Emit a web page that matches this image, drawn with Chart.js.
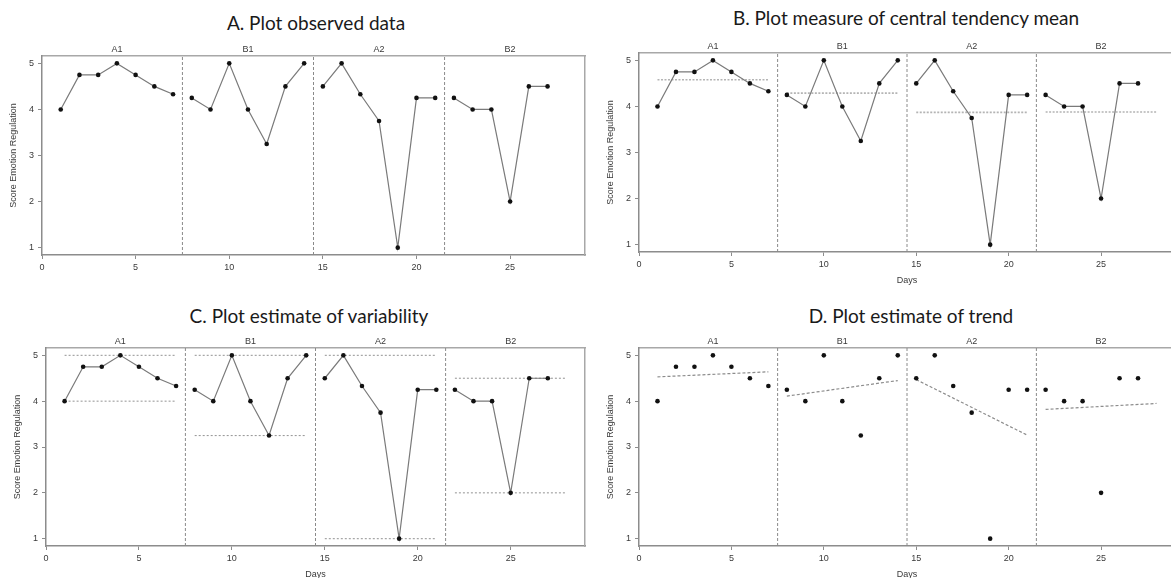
<!DOCTYPE html>
<html>
<head>
<meta charset="utf-8">
<script src="https://cdn.jsdelivr.net/npm/chart.js@4.4.1/dist/chart.umd.min.js"></script>
<style>
  html, body { margin: 0; padding: 0; background: #fff; overflow: hidden; }
  body { width: 1171px; height: 578px; position: relative; }
  canvas { position: absolute; }
  .title {
    position: absolute;
    font-family: Lato, "Open Sans", sans-serif;
    font-size: 19px;
    color: #1a1a1a;
    white-space: nowrap;
    transform: translate(-50%, -50%);
  }
</style>
</head>
<body>
<div class="title" style="left:316px;top:22px">A. Plot observed data</div>
<div class="title" style="left:906px;top:17px">B. Plot measure of central tendency mean</div>
<div class="title" style="left:309px;top:315px">C. Plot estimate of variability</div>
<div class="title" style="left:911px;top:315px">D. Plot estimate of trend</div>
<canvas id="chartA"></canvas>
<canvas id="chartB"></canvas>
<canvas id="chartC"></canvas>
<canvas id="chartD"></canvas>
<script>
// data
const days = [1, 2, 3, 4, 5, 6, 7, 8, 9, 10, 11, 12, 13, 14, 15, 16, 17, 18, 19, 20, 21, 22, 23, 24, 25, 26, 27];
const scores = [4, 4.75, 4.75, 5, 4.75, 4.5, 4.33,
                4.25, 4, 5, 4, 3.25, 4.5, 5,
                4.5, 5, 4.33, 3.75, 1, 4.25, 4.25,
                4.25, 4, 4, 2, 4.5, 4.5];
const phaseNames = ["A1", "B1", "A2", "B2"];
const phaseFirstDay = [1, 8, 15, 22];
const phaseLastDay = [7, 14, 21, 27];
const refLineEnd = [7, 14, 21, 28];
const phaseBreaks = [7.5, 14.5, 21.5];
const phaseLabelAt = [4, 11, 18, 25];
const phaseMeans = [4.58, 4.29, 3.87, 3.88];
const phaseMax = [5, 5, 5, 4.5];
const phaseMin = [4, 3.25, 1, 2];
const trendStart = [4.53, 4.11, 4.47, 3.82];
const trendEnd = [4.64, 4.45, 3.26, 3.95];
const xTicks = [0, 5, 10, 15, 20, 25];
const yTicks = [1, 2, 3, 4, 5];
const xMin = 0, xMax = 29, yMin = 0.84, yMax = 5.16;

const axisColor = "#8c8c8c";
const boxColor = "#a8a8a8";
const textColor = "#3a3a3a";
const smallFont = { family: "'Liberation Sans', Arial, sans-serif", size: 9 };

// points of one phase
function phasePoints(i) {
    const pts = [];
    days.forEach((d, k) => {
        if (d >= phaseFirstDay[i] && d <= phaseLastDay[i]) pts.push({ x: d, y: scores[k] });
    });
    return pts;
}

function observedSets(withLines) {
    return phaseNames.map((_, i) => ({
        data: phasePoints(i),
        showLine: withLines,
        borderColor: "#7a7a7a",
        borderWidth: 1.2,
        pointRadius: 2.3,
        pointBackgroundColor: "#111",
        pointBorderWidth: 0
    }));
}

function breakSets() {
    return phaseBreaks.map(b => ({
        data: [{ x: b, y: yMin }, { x: b, y: yMax }],
        showLine: true,
        borderColor: "#8a8a8a",
        borderWidth: 1,
        borderDash: [3, 2],
        pointRadius: 0
    }));
}

function refLine(x1, y1, x2, y2, color, dash, width) {
    return {
        data: [{ x: x1, y: y1 }, { x: x2, y: y2 }],
        showLine: true,
        borderColor: color,
        borderWidth: width,
        borderDash: dash,
        pointRadius: 0
    };
}

// area = page position of the plot box
function makePanel(id, area, datasets, showDays) {
    const wy = 42, wr = 4, ht = 20, hx = 36;
    const canvas = document.getElementById(id);
    const left = area.left - wy, top = area.top - ht;
    canvas.width = area.right + wr - left;
    canvas.height = area.bottom + hx - top;
    canvas.style.left = left + "px";
    canvas.style.top = top + "px";

    return new Chart(canvas, {
        type: "scatter",
        data: { datasets },
        options: {
            responsive: false,
            animation: false,
            devicePixelRatio: 1,
            layout: { padding: 0 },
            plugins: { legend: { display: false }, tooltip: { enabled: false } },
            scales: {
                x: {
                    type: "linear", position: "bottom", min: xMin, max: xMax,
                    afterBuildTicks: s => { s.ticks = xTicks.map(v => ({ value: v })); },
                    afterFit: s => { s.height = hx; },
                    grid: { drawOnChartArea: false, tickLength: 4, tickColor: axisColor },
                    border: { color: axisColor, width: 1.5 },
                    ticks: { padding: 3, color: textColor, font: smallFont, maxRotation: 0, autoSkip: false },
                    title: { display: showDays, text: "Days", color: textColor, font: smallFont, padding: { top: 0, bottom: 1.6 } }
                },
                top: {
                    type: "linear", position: "top", min: xMin, max: xMax,
                    afterBuildTicks: s => { s.ticks = phaseLabelAt.map(v => ({ value: v })); },
                    afterFit: s => { s.height = ht; },
                    grid: { display: false, drawTicks: false },
                    border: { color: boxColor, width: 1.5 },
                    ticks: { padding: 1, color: textColor, font: smallFont, maxRotation: 0, autoSkip: false,
                             callback: (v, i) => phaseNames[i] }
                },
                y: {
                    type: "linear", position: "left", min: yMin, max: yMax,
                    afterBuildTicks: s => { s.ticks = yTicks.map(v => ({ value: v })); },
                    afterFit: s => { s.width = wy; },
                    grid: { drawOnChartArea: false, tickLength: 4, tickColor: axisColor },
                    border: { color: axisColor, width: 1.5 },
                    ticks: { padding: 4, color: textColor, font: smallFont },
                    title: { display: true, text: "Score Emotion Regulation", color: textColor, font: smallFont, padding: { top: 8.6, bottom: 0 } }
                },
                right: {
                    type: "linear", position: "right", min: yMin, max: yMax,
                    afterFit: s => { s.width = wr; },
                    grid: { display: false, drawTicks: false },
                    border: { color: boxColor, width: 1.5 },
                    ticks: { display: false }
                }
            }
        }
    });
}

// ➤ Panel A: observed data
makePanel("chartA", { left: 42, right: 585, top: 56, bottom: 255 },
    [...observedSets(true), ...breakSets()], false);

// ➤ Panel B: phase means
makePanel("chartB", { left: 639, right: 1175, top: 53, bottom: 252 },
    [...observedSets(true), ...breakSets(),
     ...phaseMeans.map((m, i) => refLine(phaseFirstDay[i], m, refLineEnd[i], m, "#b4b4b4", [2, 1.5], 1.6))], true);

// ➤ Panel C: range (max / min)
makePanel("chartC", { left: 46, right: 585, top: 348, bottom: 546 },
    [...observedSets(true), ...breakSets(),
     ...phaseMax.map((m, i) => refLine(phaseFirstDay[i], m, refLineEnd[i], m, "#9c9c9c", [2, 2], 1.1)),
     ...phaseMin.map((m, i) => refLine(phaseFirstDay[i], m, refLineEnd[i], m, "#9c9c9c", [2, 2], 1.1))], true);

// ➤ Panel D: trend lines
makePanel("chartD", { left: 639, right: 1175, top: 348, bottom: 546 },
    [...observedSets(false), ...breakSets(),
     ...trendStart.map((s, i) => refLine(phaseFirstDay[i], s, refLineEnd[i], trendEnd[i], "#8c8c8c", [3, 2], 1.2))], true);
</script>
</body>
</html>
